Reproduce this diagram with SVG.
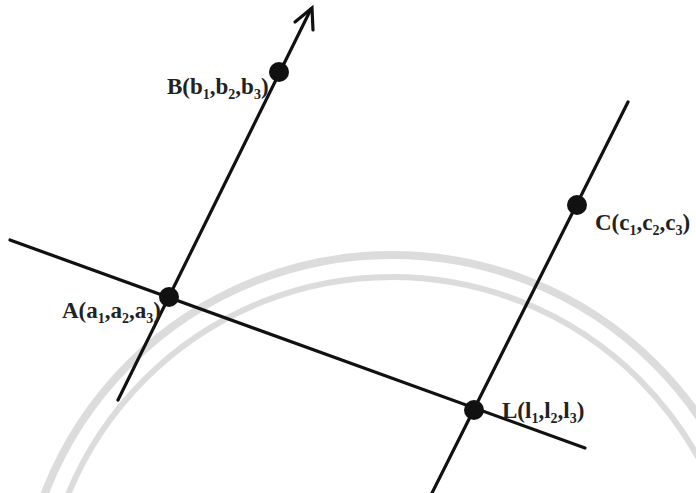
<svg xmlns="http://www.w3.org/2000/svg" width="696" height="493" viewBox="0 0 696 493">
<style>
.ln{stroke:#111;stroke-width:3.2;fill:none;stroke-linecap:round}
.dot{fill:#111}
.lbl{font-family:"Liberation Serif","Times New Roman",serif;font-weight:bold;font-size:23px;fill:#222}
.sub{font-size:14px}
.wm{fill:none;stroke:#dcdcdc}
</style>
<rect width="696" height="493" fill="#fff"/>
<g id="watermark">
<circle class="wm" cx="392" cy="627" r="372" stroke-width="8"/>
<circle class="wm" cx="392" cy="627" r="350" stroke-width="6"/>
</g>
<g id="connectors">
<line class="ln" x1="118" y1="400" x2="311" y2="9"/>
<polyline class="ln" points="295,22 312,8 313,30"/>
<line class="ln" x1="10" y1="240" x2="585" y2="448"/>
<line class="ln" x1="628" y1="102" x2="432" y2="493"/>
</g>
<g id="A">
<text class="lbl" x="62" y="318">A(a<tspan class="sub" dy="5">1</tspan><tspan dy="-5">,a</tspan><tspan class="sub" dy="5">2</tspan><tspan dy="-5">,a</tspan><tspan class="sub" dy="5">3</tspan><tspan dy="-5">)</tspan></text>
<circle class="dot" cx="169" cy="297" r="10"/>
</g>
<g id="B">
<text class="lbl" x="167" y="94">B(b<tspan class="sub" dy="5">1</tspan><tspan dy="-5">,b</tspan><tspan class="sub" dy="5">2</tspan><tspan dy="-5">,b</tspan><tspan class="sub" dy="5">3</tspan><tspan dy="-5">)</tspan></text>
<circle class="dot" cx="279" cy="72" r="10"/>
</g>
<g id="C">
<text class="lbl" x="595" y="230">C(c<tspan class="sub" dy="5">1</tspan><tspan dy="-5">,c</tspan><tspan class="sub" dy="5">2</tspan><tspan dy="-5">,c</tspan><tspan class="sub" dy="5">3</tspan><tspan dy="-5">)</tspan></text>
<circle class="dot" cx="577" cy="205" r="10"/>
</g>
<g id="L">
<text class="lbl" x="502" y="418">L(l<tspan class="sub" dy="5">1</tspan><tspan dy="-5">,l</tspan><tspan class="sub" dy="5">2</tspan><tspan dy="-5">,l</tspan><tspan class="sub" dy="5">3</tspan><tspan dy="-5">)</tspan></text>
<circle class="dot" cx="474" cy="410" r="10"/>
</g>
</svg>
